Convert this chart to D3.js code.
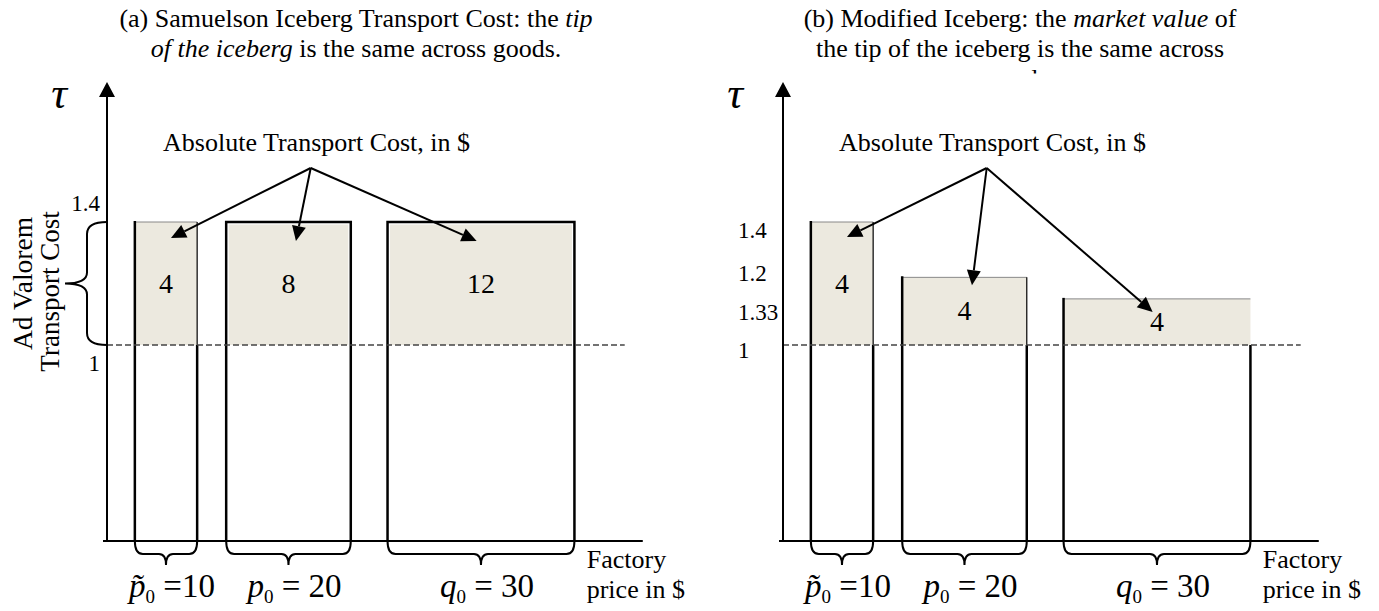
<!DOCTYPE html>
<html><head><meta charset="utf-8">
<script src="https://cdn.jsdelivr.net/npm/d3@7"></script>
<style>
body{margin:0;background:#fff}
text{font-family:"Liberation Serif","Times New Roman",serif;fill:#000}
</style>
</head><body>
<svg id="c" width="1379" height="611"></svg>
<script>
// ---------------- data ----------------
const prices = [10, 20, 30];
const priceVar = ["p\u0303", "p", "q"];
const priceEq = [" =", " = ", " = "];
const tauA = [1.4, 1.4, 1.4];
const tauB = [1.4, 1.22, 1.15];
const costA = [4, 8, 12];
const costB = [4, 4, 4];
const tickTextA = ["1.4", "1"];
const tickAtA = [1.436, 0.915];
const tickTextB = ["1.4", "1.2", "1.33", "1"];
const tickAtB = [1.348, 1.208, 1.081, 0.958];
const titleA = [[["(a) Samuelson Iceberg Transport Cost: the ", false], ["tip", true]],
                [["of the iceberg", true], [" is the same across goods.", false]]];
const titleB = [[["(b) Modified Iceberg: the ", false], ["market value", true], [" of", false]],
                [["the tip of the iceberg is the same across", false]],
                [["goods.", false]]];
const annotation = "Absolute Transport Cost, in $";
const xAxisLabel = ["Factory", "price in $"];
const yBraceLabel = ["Ad Valorem", "Transport Cost"];

// ---------------- layout ----------------
const svg = d3.select("#c");
const baseY = 541, topY = 82;
const pxPerDollar = 6.23;
const gaps = [4.47, 4.66, 5.9];
const starts = [];
{ let c = 0; prices.forEach((p, i) => { c += gaps[i]; starts.push(c); c += p; }); }
const shade = "#ECE9DF";

const panels = [
  {x0: 107, tau: tauA, cost: costA, ticks: tickTextA, tickAt: tickAtA, tickAnchor: "end", tickDx: -7,
   title: titleA, titleCx: 356, boxes: ["open", "full", "full"], tipDy: [16, 19, 19], brace: true},
  {x0: 783, tau: tauB, cost: costB, ticks: tickTextB, tickAt: tickAtB, tickAnchor: "start", tickDx: -45,
   title: titleB, titleCx: 1020, boxes: ["open", "open", "open"], tipDy: [15, 8, 13], brace: false}
];
const tipDx = [0.8, 1.2, -0.7];

const defs = svg.append("defs");
defs.append("clipPath").attr("id", "titleClip").append("rect")
  .attr("x", 0).attr("y", 0).attr("width", 1379).attr("height", 73.5);

function arrow(g, x1, y1, x2, y2, len, w, sw) {
  const a = Math.atan2(y2 - y1, x2 - x1);
  const bx = x2 - len * Math.cos(a), by = y2 - len * Math.sin(a);
  g.append("line").attr("x1", x1).attr("y1", y1).attr("x2", bx).attr("y2", by)
    .attr("stroke", "#000").attr("stroke-width", sw);
  const px = -Math.sin(a) * w / 2, py = Math.cos(a) * w / 2;
  g.append("path").attr("d", `M${x2},${y2}L${bx + px},${by + py}L${bx - px},${by - py}Z`).attr("fill", "#000");
}

panels.forEach(P => {
  const g = svg.append("g");
  const x = d3.scaleLinear().domain([0, 86]).range([P.x0, P.x0 + 86 * pxPerDollar]);
  const y = d3.scaleLinear().domain([1, 1.4]).range([345, 222]);

  // title
  const tg = g.append("g").attr("clip-path", "url(#titleClip)");
  P.title.forEach((line, i) => {
    const t = tg.append("text").attr("x", P.titleCx).attr("y", 27 + i * 30)
      .attr("text-anchor", "middle").attr("font-size", 26);
    line.forEach(([s, it]) => t.append("tspan").text(s).attr("font-style", it ? "italic" : "normal"));
  });

  // shaded tips + boxes
  prices.forEach((p, i) => {
    const xl = x(starts[i]), xr = x(starts[i] + p), yt = y(P.tau[i]), y1 = y(1);
    const ins = P.boxes[i] === "full" ? 2.5 : 0;
    g.append("rect").attr("x", xl + ins).attr("y", yt + ins).attr("width", xr - xl - 2 * ins).attr("height", y1 - yt - ins)
      .attr("fill", shade);
    if (P.boxes[i] === "full") {
      g.append("path").attr("d", `M${xl},${baseY}V${yt}H${xr}V${baseY}`)
        .attr("fill", "none").attr("stroke", "#000").attr("stroke-width", 2.5);
    } else {
      g.append("line").attr("x1", xl).attr("x2", xr).attr("y1", yt).attr("y2", yt)
        .attr("stroke", "#888").attr("stroke-width", 1);
      g.append("line").attr("x1", xl).attr("x2", xl).attr("y1", yt - 1).attr("y2", baseY)
        .attr("stroke", "#000").attr("stroke-width", 2.5);
      if (i < 2) g.append("line").attr("x1", xr).attr("x2", xr).attr("y1", yt).attr("y2", y1)
        .attr("stroke", "#000").attr("stroke-width", 1.2);
      g.append("line").attr("x1", xr).attr("x2", xr).attr("y1", y1).attr("y2", baseY)
        .attr("stroke", "#000").attr("stroke-width", 2.5);
    }
    // value inside tip
    g.append("text").attr("x", (xl + xr) / 2).attr("y", (yt + y1) / 2 + 9)
      .attr("text-anchor", "middle").attr("font-size", 28).text(P.cost[i]);
    // brace under bar
    const xm = (xl + xr) / 2;
    g.append("path")
      .attr("d", `M${xl},${baseY}Q${xl},${baseY + 13} ${xl + 8},${baseY + 13}L${xm - 7},${baseY + 13}Q${xm},${baseY + 13} ${xm},${baseY + 24}Q${xm},${baseY + 13} ${xm + 7},${baseY + 13}L${xr - 8},${baseY + 13}Q${xr},${baseY + 13} ${xr},${baseY}`)
      .attr("fill", "none").attr("stroke", "#000").attr("stroke-width", 2);
    // price label
    const lt = g.append("text").attr("x", xm + 6).attr("y", 597).attr("text-anchor", "middle").attr("font-size", 33);
    lt.append("tspan").attr("font-style", "italic").text(priceVar[i]);
    lt.append("tspan").attr("font-size", 19).attr("dy", 6).text("0");
    lt.append("tspan").attr("dy", -6).text(priceEq[i] + p);
  });

  // dashed line at tau = 1
  g.append("line").attr("x1", P.x0).attr("x2", x(83.1)).attr("y1", y(1)).attr("y2", y(1))
    .attr("stroke", "#444").attr("stroke-width", 1.3).attr("stroke-dasharray", "6,3");

  // axes
  g.append("line").attr("x1", P.x0 - 4).attr("x2", x(86)).attr("y1", baseY).attr("y2", baseY)
    .attr("stroke", "#000").attr("stroke-width", 2);
  arrow(g, P.x0, baseY, P.x0, topY, 15, 16, 2);
  g.append("text").attr("x", P.x0 - 48).attr("y", 108).attr("text-anchor", "middle")
    .attr("font-size", 44).attr("font-style", "italic").text("\u03C4");

  // tick labels
  P.ticks.forEach((t, i) => {
    g.append("text").attr("x", P.x0 + P.tickDx).attr("y", y(P.tickAt[i]))
      .attr("text-anchor", P.tickAnchor).attr("font-size", 23).text(t);
  });

  // x axis label
  xAxisLabel.forEach((s, i) => g.append("text").attr("x", x(77)).attr("y", 568 + i * 30)
    .attr("font-size", 26).text(s));

  // annotation + arrows
  g.append("text").attr("x", x(9)).attr("y", 151).attr("font-size", 26).text(annotation);
  const ax = x(32.7), ay = 168;
  prices.forEach((p, i) => {
    const tx = x(starts[i] + p / 2 + tipDx[i]), ty = y(P.tau[i]) + P.tipDy[i];
    arrow(g, ax, ay, tx, ty, 15, 14, 2);
  });

  // vertical brace for ad valorem cost
  if (P.brace) {
    const yt = y(1.4), yb = y(1), ym = (yt + yb) / 2, xa = P.x0, xb = P.x0 - 20, xt = P.x0 - 42;
    g.append("path")
      .attr("d", `M${xa},${yt}Q${xb},${yt} ${xb},${yt + 12}L${xb},${ym - 11}Q${xb},${ym} ${xt},${ym}Q${xb},${ym} ${xb},${ym + 11}L${xb},${yb - 12}Q${xb},${yb} ${xa},${yb}`)
      .attr("fill", "none").attr("stroke", "#000").attr("stroke-width", 2);
    g.append("text").attr("transform", `translate(32,${ym}) rotate(-90)`)
      .attr("text-anchor", "middle").attr("font-size", 27.5).text(yBraceLabel[0]);
    g.append("text").attr("transform", `translate(59,${ym + 8}) rotate(-90)`)
      .attr("text-anchor", "middle").attr("font-size", 27).text(yBraceLabel[1]);
  }
});
</script>
</body></html>
